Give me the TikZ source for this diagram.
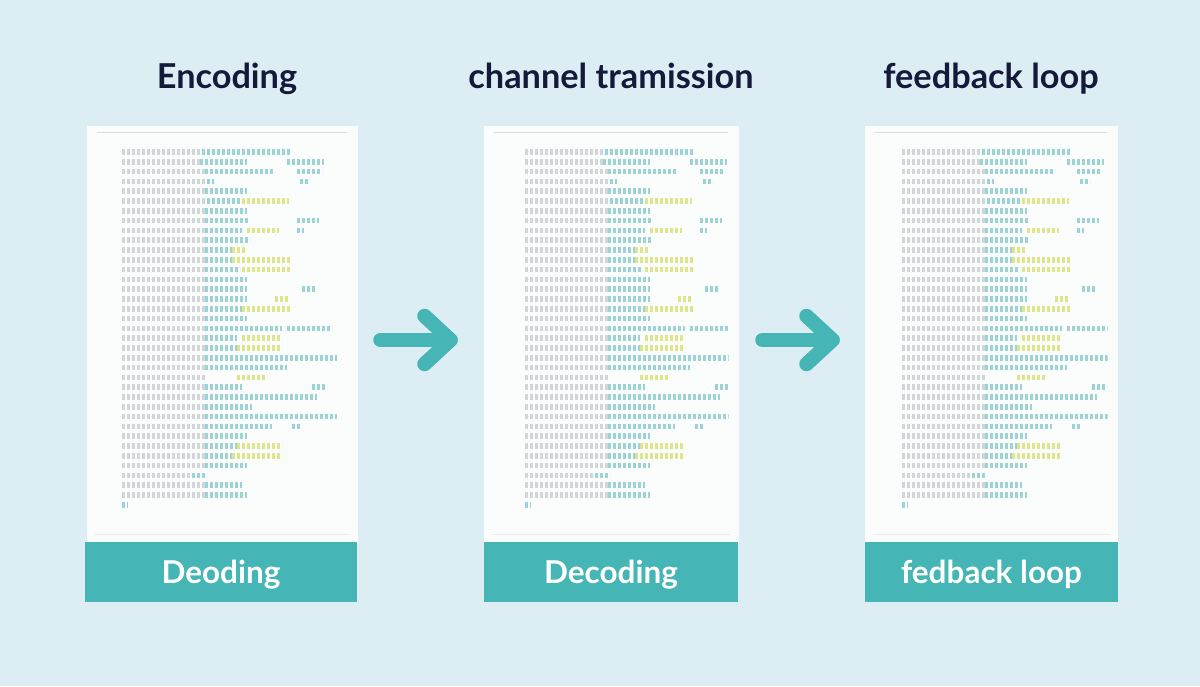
\documentclass[tikz,border=0pt]{standalone}
\usepackage{fontspec}
\setmainfont{Lato}
\usetikzlibrary{calc}
\definecolor{bg}{HTML}{DCEEF3}
\definecolor{tealbar}{HTML}{45B5B5}
\definecolor{navy}{HTML}{15193A}
\definecolor{glyphgrey}{HTML}{D2D6D9}
\definecolor{glyphteal}{HTML}{9CD3D5}
\definecolor{glyphyel}{HTML}{DEE689}
\definecolor{docwhite}{HTML}{FBFDFD}
\definecolor{rulegrey}{HTML}{D9DDDF}
\tikzset{
  docbox/.style={fill=docwhite, draw=white!80!bg, line width=1pt, inner sep=0pt},
  barbox/.style={fill=tealbar, inner sep=0pt, text=white,
    font=\bfseries\fontsize{31.5}{31.5}\selectfont, text height=22pt, text depth=0pt},
  heading/.style={text=navy, font=\bfseries\fontsize{34.3}{34.3}\selectfont, anchor=base, inner sep=0pt},
  flow/.style={draw=tealbar, line width=14.5pt, line cap=round, line join=round},
  glyph/.style={line width=5.5pt, dash pattern=on 3pt off 2pt},
}
\begin{document}
\begin{tikzpicture}[x=1pt,y=-1pt]
\fill[bg] (0,0) rectangle (1200,686);
\useasboundingbox (0,0) rectangle (1200,686);

% headings
\node[heading] (h1) at (227,88) {Encoding};
\node[heading] (h2) at (611,88) {channel tramission};
\node[heading] (h3) at (991,88) {feedback loop};

% documents
\node[docbox, minimum width=270pt, minimum height=417pt] (doc1) at (222,334.5) {};
\node[docbox, minimum width=254pt, minimum height=417pt] (doc2) at (611,334.5) {};
\node[docbox, minimum width=252pt, minimum height=417pt] (doc3) at (991,334.5) {};

% top and bottom rules inside documents
\foreach \d in {doc1,doc2,doc3}{
  \draw[rulegrey, line width=1.6pt] ([shift={(10pt,-7pt)}]\d.north west) -- ([shift={(-11pt,-7pt)}]\d.north east);
  \draw[rulegrey!50!docwhite, line width=0.8pt] ([shift={(8pt,9pt)}]\d.south west) -- ([shift={(-8pt,9pt)}]\d.south east);
}

% garbled text rows
\foreach \px/\d in {122/doc1,525/doc2,902/doc3}{
  \begin{scope}
  \clip ([xshift=8pt]\d.south west) rectangle ([xshift=-10pt]\d.north east);
  \foreach \g/\t/\ys/\ye/\ea/\eb [count=\k from 0] in {
    80/168/0/0/0/0, 78/125/0/0/165/202, 83/153/0/0/175/200, 85/92/0/0/178/188,
    83/125/0/0/0/0, 85/120/120/167/0/0, 83/125/0/0/0/0, 83/127/0/0/175/197,
    83/120/125/157/175/182, 83/128/0/0/0/0, 83/110/110/123/0/0, 83/110/110/168/0/0,
    83/118/120/168/0/0, 83/125/0/0/0/0, 83/125/0/0/180/193, 83/125/153/167/0/0,
    83/120/120/168/0/0, 83/125/0/0/0/0, 83/160/0/0/165/210, 83/115/120/160/0/0,
    83/115/115/160/0/0, 83/215/0/0/0/0, 83/165/0/0/0/0, 83/83/115/145/0/0,
    83/120/0/0/190/205, 83/195/0/0/0/0, 83/130/0/0/0/0, 83/215/0/0/0/0,
    83/150/0/0/170/178, 83/125/0/0/0/0, 83/115/115/160/0/0, 83/110/110/160/0/0,
    83/125/0/0/0/0, 70/85/0/0/0/0, 83/120/0/0/0/0, 83/125/0/0/0/0, 0/6/0/0/0/0}{
    \pgfmathsetmacro{\ry}{152+9.8*\k}
    \ifdim\g pt>0pt
      \draw[glyph, glyphgrey] (\px,\ry) -- ({\px+\g},\ry);
    \fi
    \ifdim\t pt>\g pt
      \draw[glyph, glyphteal] ({\px+\g},\ry) -- ({\px+\t},\ry);
    \fi
    \ifdim\ye pt>\ys pt
      \draw[glyph, glyphyel] ({\px+\ys},\ry) -- ({\px+\ye},\ry);
    \fi
    \ifdim\eb pt>\ea pt
      \draw[glyph, glyphteal] ({\px+\ea},\ry) -- ({\px+\eb},\ry);
    \fi
  }
  \end{scope}
}

% teal footer bars
\node[barbox, minimum width=272pt, minimum height=60pt] (bar1) at (221,572) {Deoding};
\node[barbox, minimum width=254pt, minimum height=60pt] (bar2) at (611,572) {Decoding};
\node[barbox, minimum width=253pt, minimum height=60pt] (bar3) at (991.5,572) {fedback loop};

% arrows
\coordinate (a1s) at ([shift={(23pt,-5.5pt)}]doc1.east);
\coordinate (a1e) at ([shift={(-33pt,-5.5pt)}]doc2.west);
\draw[flow] (a1s) -- (a1e);
\draw[flow] ([shift={(-26pt,24pt)}]a1e) -- (a1e) -- ([shift={(-26pt,-24pt)}]a1e);

\coordinate (a2s) at ([shift={(24pt,-5.5pt)}]doc2.east);
\coordinate (a2e) at ([shift={(-32pt,-5.5pt)}]doc3.west);
\draw[flow] (a2s) -- (a2e);
\draw[flow] ([shift={(-26pt,24pt)}]a2e) -- (a2e) -- ([shift={(-26pt,-24pt)}]a2e);
\end{tikzpicture}
\end{document}
